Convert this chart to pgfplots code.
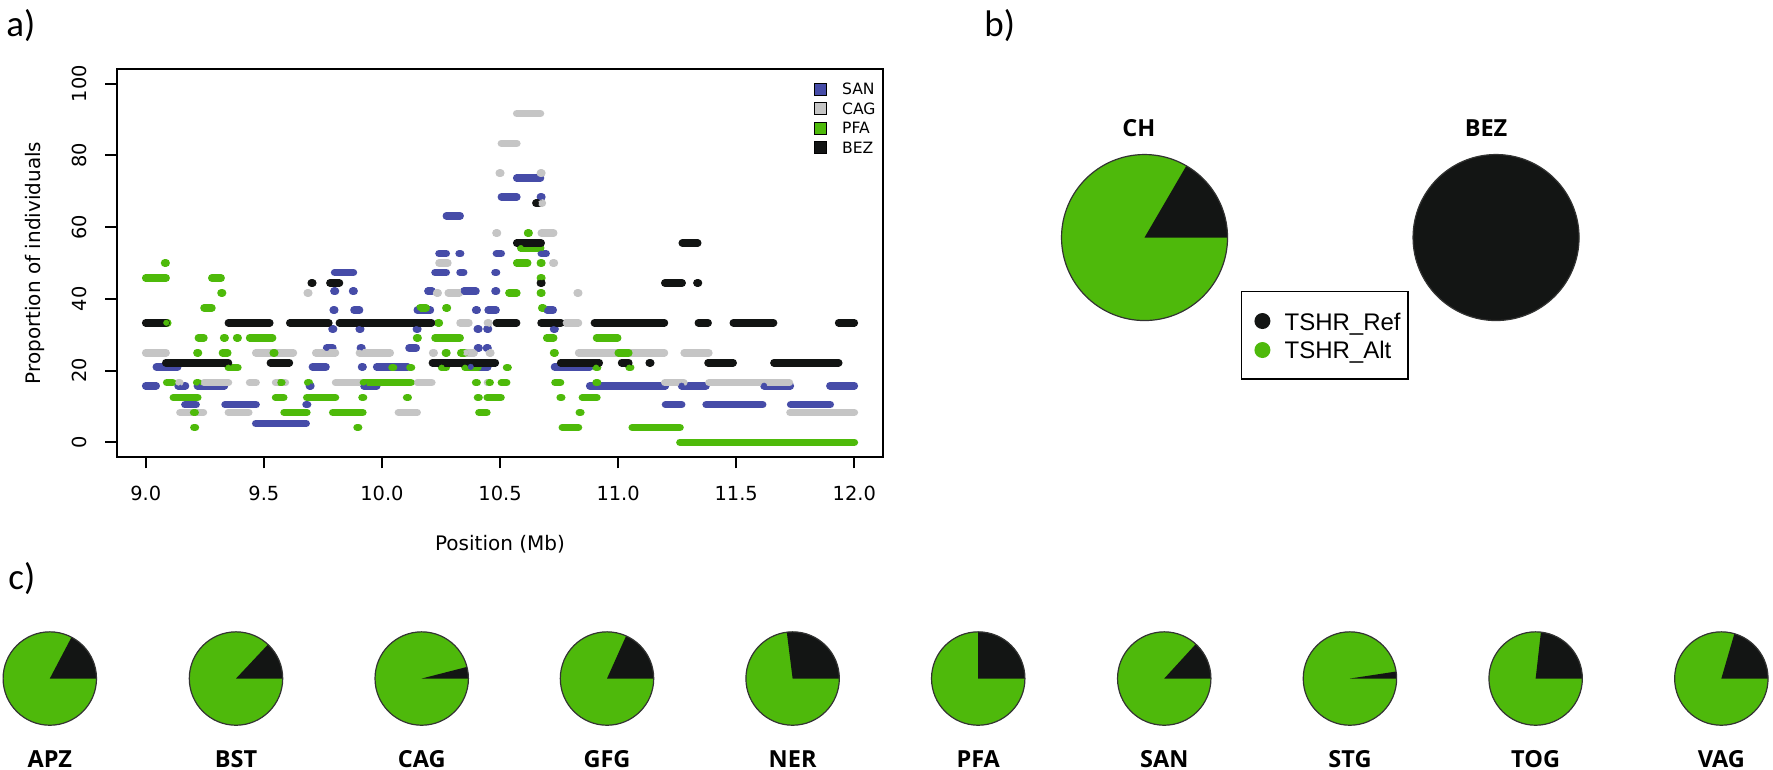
\documentclass[border=0pt]{standalone}
\usepackage{fontspec}
\setmainfont{DejaVu Sans}
\newfontfamily\osans{Open Sans}
\newfontfamily\carlito{Carlito}
\newfontfamily\libsans{Liberation Sans}
\usepackage{pgfplots}
\usepackage{pgfplotstable}
\pgfplotsset{compat=1.18}

\definecolor{sanblue}{RGB}{70,76,168}
\definecolor{caggray}{RGB}{197,197,197}
\definecolor{pfagreen}{RGB}{78,186,10}
\definecolor{bezblack}{RGB}{18,20,19}
\definecolor{piegreen}{RGB}{78,185,11}
\definecolor{pieblack}{RGB}{19,21,20}

% segments: start, end (Mb), proportion (%)
\pgfplotstableread{
x1 x2 y
9.000 9.044 15.789
9.137 9.168 15.789
9.219 9.333 15.789
9.693 9.699 15.789
9.924 9.978 15.789
10.880 11.200 15.789
11.269 11.372 15.789
11.618 11.729 15.789
11.897 12.000 15.789
9.045 9.135 21.053
9.706 9.763 21.053
9.914 9.920 21.053
9.978 10.109 21.053
10.376 10.448 21.053
10.731 10.880 21.053
9.166 9.213 10.526
9.336 9.467 10.526
9.679 9.685 10.526
11.201 11.269 10.526
11.373 11.612 10.526
11.731 11.898 10.526
9.466 9.679 5.263
9.766 9.792 26.316
9.909 9.915 26.316
10.115 10.145 26.316
10.405 10.411 26.316
10.443 10.449 26.316
9.789 9.795 31.579
9.904 9.910 31.579
10.146 10.152 31.579
10.404 10.410 31.579
10.445 10.451 31.579
10.727 10.733 31.579
9.794 9.800 36.842
9.882 9.905 36.842
10.150 10.205 36.842
10.397 10.403 36.842
10.450 10.483 36.842
10.700 10.725 36.842
9.797 9.803 42.105
9.876 9.882 42.105
10.195 10.212 42.105
10.347 10.398 42.105
10.479 10.485 42.105
9.800 9.879 47.368
10.225 10.272 47.368
10.331 10.346 47.368
10.479 10.485 47.368
10.242 10.272 52.632
10.327 10.333 52.632
10.485 10.505 52.632
10.675 10.695 52.632
10.273 10.331 63.158
10.506 10.571 68.421
10.671 10.677 68.421
10.571 10.671 73.684
}\tabSAN

\pgfplotstableread{
x1 x2 y
9.000 9.086 25
9.466 9.625 25
9.720 9.803 25
9.905 10.035 25
10.215 10.221 25
10.355 10.390 25
10.455 10.461 25
10.833 11.196 25
11.280 11.384 25
9.145 9.244 8.333
9.350 9.436 8.333
10.070 10.149 8.333
11.728 12.000 8.333
9.138 9.144 16.667
9.247 9.350 16.667
9.440 9.467 16.667
9.550 9.591 16.667
9.804 9.919 16.667
10.150 10.211 16.667
10.447 10.453 16.667
11.198 11.278 16.667
11.385 11.725 16.667
9.684 9.690 41.667
10.232 10.238 41.667
10.281 10.328 41.667
10.827 10.833 41.667
10.242 10.279 50
10.724 10.730 50
10.331 10.368 33.333
10.447 10.453 33.333
10.778 10.832 33.333
10.483 10.489 58.333
10.675 10.727 58.333
10.497 10.503 75
10.671 10.677 75
10.506 10.571 83.333
10.571 10.671 91.667
10.673 10.679 66.667
}\tabCAG

\pgfplotstableread{
x1 x2 y
9.000 9.086 45.833
9.280 9.319 45.833
10.671 10.677 45.833
9.080 9.086 50
10.571 10.617 50
10.671 10.677 50
9.087 9.093 33.333
10.237 10.243 33.333
9.089 9.114 16.667
9.216 9.222 16.667
9.570 9.576 16.667
9.686 9.692 16.667
9.922 10.123 16.667
10.397 10.403 16.667
10.452 10.458 16.667
10.506 10.528 16.667
10.733 10.756 16.667
10.907 10.913 16.667
9.117 9.220 12.5
9.550 9.584 12.5
9.682 9.803 12.5
9.916 9.922 12.5
10.105 10.111 12.5
10.405 10.411 12.5
10.446 10.504 12.5
10.755 10.761 12.5
10.849 10.910 12.5
9.203 9.209 8.333
9.586 9.682 8.333
9.792 9.919 8.333
10.411 10.444 8.333
10.836 10.842 8.333
9.204 9.210 4.167
9.895 9.901 4.167
10.764 10.832 4.167
11.060 11.262 4.167
9.217 9.223 25
9.325 9.347 25
9.540 9.546 25
10.269 10.275 25
10.334 10.350 25
10.727 10.733 25
11.001 11.045 25
9.223 9.246 29.167
9.330 9.336 29.167
9.385 9.391 29.167
9.440 9.537 29.167
10.147 10.153 29.167
10.225 10.331 29.167
10.698 10.727 29.167
10.909 10.998 29.167
9.247 9.280 37.5
10.161 10.187 37.5
10.271 10.277 37.5
10.677 10.683 37.5
9.319 9.325 41.667
10.538 10.571 41.667
10.671 10.677 41.667
9.350 9.390 20.833
10.043 10.049 20.833
10.119 10.125 20.833
10.253 10.272 20.833
10.352 10.406 20.833
10.528 10.534 20.833
10.907 10.913 20.833
11.047 11.053 20.833
10.617 10.623 58.333
10.588 10.672 54.167
11.262 12.000 0
}\tabPFA

\pgfplotstableread{
x1 x2 y
9.000 9.086 33.333
9.350 9.525 33.333
9.610 9.775 33.333
9.820 10.210 33.333
10.485 10.570 33.333
10.674 10.758 33.333
10.900 11.196 33.333
11.340 11.381 33.333
11.488 11.658 33.333
11.934 12.000 33.333
9.085 9.350 22.222
9.528 9.608 22.222
10.214 10.480 22.222
10.757 10.920 22.222
11.015 11.045 22.222
11.132 11.138 22.222
11.381 11.487 22.222
11.660 11.934 22.222
9.701 9.707 44.444
9.780 9.820 44.444
10.671 10.677 44.444
11.198 11.271 44.444
11.334 11.340 44.444
10.571 10.674 55.556
11.272 11.337 55.556
10.652 10.664 66.667
}\tabBEZ

\pgfplotsset{
  segs/.style={color=#1, only marks, mark=*, mark size=1.4bp,
    mark options={draw=#1, fill=#1, line width=0.2bp},
    error bars/.cd, x dir=plus, x explicit, error mark=none,
    error bar style={line width=3.85bp, line cap=round, color=#1, solid}},
}

% pie: centre x, centre y, radius (px), share of TSHR_Ref
\newcommand{\piechart}[4]{%
  \fill[piegreen] (axis cs:#1,#2) circle[radius=#3*0.5bp];
  \fill[pieblack] (axis cs:#1,#2) -- ++(0:#3*0.5bp) arc[start angle=0, end angle=#4*360, radius=#3*0.5bp] -- cycle;
  \draw[black!80, line width=0.6bp] (axis cs:#1,#2) circle[radius=#3*0.5bp];
}

\begin{document}
\begin{tikzpicture}[x=0.5bp, y=-0.5bp]
\useasboundingbox (0,0) rectangle (1773,770);

\begin{axis}[
  at={(58.35bp,-228.35bp)}, anchor=south west,
  scale only axis, width=383.3bp, height=193.7bp,
  xmin=8.877, xmax=12.123, ymin=-4, ymax=104,
  xtick={9,9.5,10,10.5,11,11.5,12},
  xticklabels={9.0,9.5,10.0,10.5,11.0,11.5,12.0},
  ytick={0,20,40,60,80,100},
  yticklabels={0,20,40,60,80,100},
  tick align=outside, tick pos=left,
  major tick length=5.85bp,
  every tick/.style={black, line width=0.9bp},
  axis line style={black, line width=0.9bp},
  tick label style={font=\fontsize{9.7bp}{11bp}\selectfont, inner sep=0pt},
  xticklabel style={anchor=north},
  yticklabel style={rotate=90, anchor=south},
  xticklabel shift=8.8bp, yticklabel shift=8.8bp,
  xlabel={Position (Mb)}, ylabel={Proportion of individuals},
  label style={font=\fontsize{10bp}{12bp}\selectfont, inner sep=0pt},
  xlabel style={at={(axis description cs:0.5,-0.2409)}, anchor=base},
  ylabel style={at={(axis description cs:-0.100,0.5)}, anchor=base},
]
\addplot[segs=sanblue] table[x=x1, y=y, x error expr={\thisrow{x2}-\thisrow{x1}}] {\tabSAN};
\addplot[segs=caggray] table[x=x1, y=y, x error expr={\thisrow{x2}-\thisrow{x1}}] {\tabCAG};
\addplot[segs=pfagreen] table[x=x1, y=y, x error expr={\thisrow{x2}-\thisrow{x1}}] {\tabPFA};
\addplot[segs=bezblack] table[x=x1, y=y, x error expr={\thisrow{x2}-\thisrow{x1}}] {\tabBEZ};
\end{axis}

\begin{axis}[
  at={(0bp,-385bp)}, anchor=south west,
  scale only axis, width=886.5bp, height=385bp,
  xmin=0, xmax=1773, ymin=0, ymax=770, y dir=reverse,
  hide axis, clip=false,
]
% panel a legend
\draw[black, line width=0.5bp, fill=sanblue]  (axis cs:814.3,83)   rectangle (axis cs:826.3,95);
\draw[black, line width=0.5bp, fill=caggray]  (axis cs:814.3,102.5) rectangle (axis cs:826.3,114.5);
\draw[black, line width=0.5bp, fill=pfagreen] (axis cs:814.3,122)  rectangle (axis cs:826.3,134);
\draw[black, line width=0.5bp, fill=bezblack] (axis cs:814.3,141.5) rectangle (axis cs:826.3,153.5);
\node[anchor=base west, inner sep=0pt, font=\fontsize{7.8bp}{9bp}\selectfont] at (axis cs:841.7,94.8) {SAN};
\node[anchor=base west, inner sep=0pt, font=\fontsize{7.8bp}{9bp}\selectfont] at (axis cs:841.7,114.3) {CAG};
\node[anchor=base west, inner sep=0pt, font=\fontsize{7.8bp}{9bp}\selectfont] at (axis cs:841.7,133.8) {PFA};
\node[anchor=base west, inner sep=0pt, font=\fontsize{7.8bp}{9bp}\selectfont] at (axis cs:841.7,153.3) {BEZ};

% panel b
\piechart{1144.5}{237.5}{83}{0.166}
\piechart{1496}{237.5}{83}{1}
\node[anchor=base, inner sep=0pt, font=\osans\bfseries\fontsize{11.75bp}{13bp}\selectfont] at (axis cs:1138.8,136.7) {CH};
\node[anchor=base, inner sep=0pt, font=\osans\bfseries\fontsize{11.75bp}{13bp}\selectfont] at (axis cs:1486,136.7) {BEZ};
\draw[black, line width=0.7bp] (axis cs:1241.4,291.7) rectangle (axis cs:1407.9,379);
\fill[pieblack] (axis cs:1262.4,321) circle[radius=4bp];
\fill[piegreen] (axis cs:1262.4,350) circle[radius=4bp];
\node[anchor=base west, inner sep=0pt, font=\libsans\fontsize{12bp}{14bp}\selectfont] at (axis cs:1284.2,330) {TSHR\_Ref};
\node[anchor=base west, inner sep=0pt, font=\libsans\fontsize{12bp}{14bp}\selectfont] at (axis cs:1284.2,358.5) {TSHR\_Alt};

% panel c
\piechart{49.8}{678.5}{46.7}{0.173}
\piechart{236}{678.5}{46.7}{0.130}
\piechart{421.7}{678.5}{46.7}{0.040}
\piechart{607}{678.5}{46.7}{0.183}
\piechart{792.6}{678.5}{46.7}{0.270}
\piechart{978.2}{678.5}{46.7}{0.250}
\piechart{1164.2}{678.5}{46.7}{0.132}
\piechart{1349.9}{678.5}{46.7}{0.024}
\piechart{1535.6}{678.5}{46.7}{0.232}
\piechart{1721.3}{678.5}{46.7}{0.205}
\node[anchor=base, inner sep=0pt, font=\osans\bfseries\fontsize{11.75bp}{13bp}\selectfont] at (axis cs:49.8,767) {APZ};
\node[anchor=base, inner sep=0pt, font=\osans\bfseries\fontsize{11.75bp}{13bp}\selectfont] at (axis cs:236,767) {BST};
\node[anchor=base, inner sep=0pt, font=\osans\bfseries\fontsize{11.75bp}{13bp}\selectfont] at (axis cs:421.7,767) {CAG};
\node[anchor=base, inner sep=0pt, font=\osans\bfseries\fontsize{11.75bp}{13bp}\selectfont] at (axis cs:607,767) {GFG};
\node[anchor=base, inner sep=0pt, font=\osans\bfseries\fontsize{11.75bp}{13bp}\selectfont] at (axis cs:792.6,767) {NER};
\node[anchor=base, inner sep=0pt, font=\osans\bfseries\fontsize{11.75bp}{13bp}\selectfont] at (axis cs:978.2,767) {PFA};
\node[anchor=base, inner sep=0pt, font=\osans\bfseries\fontsize{11.75bp}{13bp}\selectfont] at (axis cs:1164.2,767) {SAN};
\node[anchor=base, inner sep=0pt, font=\osans\bfseries\fontsize{11.75bp}{13bp}\selectfont] at (axis cs:1349.9,767) {STG};
\node[anchor=base, inner sep=0pt, font=\osans\bfseries\fontsize{11.75bp}{13bp}\selectfont] at (axis cs:1535.6,767) {TOG};
\node[anchor=base, inner sep=0pt, font=\osans\bfseries\fontsize{11.75bp}{13bp}\selectfont] at (axis cs:1721.3,767) {VAG};

% panel letters
\node[anchor=base west, inner sep=0pt, font=\carlito\fontsize{18.5bp}{20bp}\selectfont] at (axis cs:6,36) {a)};
\node[anchor=base west, inner sep=0pt, font=\carlito\fontsize{18.5bp}{20bp}\selectfont] at (axis cs:984,36) {b)};
\node[anchor=base west, inner sep=0pt, font=\carlito\fontsize{18.5bp}{20bp}\selectfont] at (axis cs:8,589) {c)};
\end{axis}
\end{tikzpicture}
\end{document}
